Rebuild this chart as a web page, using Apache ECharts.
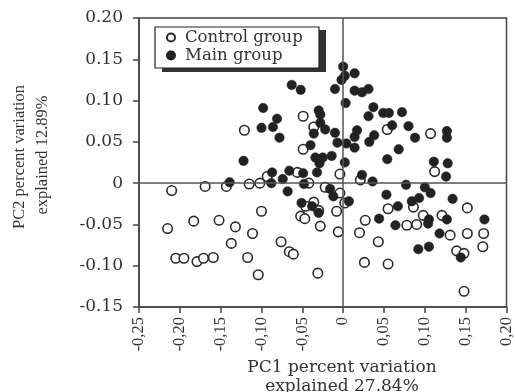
<!DOCTYPE html>
<html>
<head>
<meta charset="utf-8">
<script src="https://cdn.jsdelivr.net/npm/echarts@6/dist/echarts.min.js"></script>
<style>
html,body{margin:0;padding:0;background:#fff;}
#chart{width:515px;height:392px;}
</style>
</head>
<body>
<div id="chart"></div>
<script>
// Series data: [PC1, PC2]
const controlGroup = [
  [-0.215,-0.055],[-0.210,-0.009],[-0.205,-0.091],[-0.195,-0.091],[-0.183,-0.046],
  [-0.179,-0.095],[-0.171,-0.091],[-0.159,-0.090],[-0.169,-0.004],[-0.152,-0.045],
  [-0.143,-0.004],[-0.137,-0.073],[-0.132,-0.053],[-0.121,0.064],[-0.115,-0.001],
  [-0.111,-0.061],[-0.117,-0.090],[-0.104,-0.111],[-0.102,0.000],[-0.100,-0.034],
  [-0.093,0.008],[-0.076,-0.071],[-0.066,-0.083],[-0.061,-0.086],[-0.049,0.081],
  [-0.036,0.068],[-0.049,0.041],[-0.056,0.013],[-0.042,0.000],[-0.046,-0.028],
  [-0.036,-0.023],[-0.052,-0.040],[-0.047,-0.043],[-0.030,-0.033],[-0.028,-0.052],
  [-0.031,-0.109],[-0.022,-0.005],[-0.008,-0.034],[-0.004,0.011],[-0.004,-0.012],
  [0.002,-0.024],[-0.006,-0.059],[0.021,0.004],[0.020,-0.060],[0.027,-0.045],
  [0.026,-0.096],[0.043,-0.071],[0.055,-0.031],[0.055,-0.098],[0.054,0.065],
  [0.078,-0.051],[0.086,-0.029],[0.090,-0.050],[0.098,-0.039],[0.107,0.060],
  [0.112,0.014],[0.121,-0.039],[0.131,-0.063],[0.139,-0.082],[0.148,-0.085],
  [0.152,-0.030],[0.152,-0.061],[0.148,-0.131],[0.172,-0.061],[0.171,-0.077]
];
const mainGroup = [
  [0.000,0.141],[0.002,0.130],[-0.002,0.125],[0.014,0.133],
  [-0.063,0.119],[-0.052,0.113],[-0.010,0.114],[0.014,0.112],[0.023,0.110],[0.031,0.114],
  [0.003,0.097],[-0.098,0.091],[-0.081,0.078],[-0.030,0.088],[-0.028,0.083],
  [0.037,0.092],[0.031,0.081],[0.049,0.085],[0.056,0.085],[0.072,0.086],
  [-0.100,0.067],[-0.086,0.068],[-0.078,0.055],[-0.028,0.073],[-0.022,0.065],
  [0.060,0.070],[0.080,0.069],[0.017,0.064],[-0.010,0.061],[-0.036,0.060],
  [0.014,0.056],[0.038,0.058],[0.032,0.050],[0.088,0.055],[0.127,0.063],[0.127,0.055],
  [-0.040,0.046],[-0.007,0.049],[0.004,0.048],[0.014,0.043],[0.068,0.041],
  [-0.122,0.027],[-0.034,0.031],[-0.025,0.031],[-0.014,0.033],[-0.029,0.024],[0.002,0.025],
  [0.054,0.029],[0.111,0.026],[0.128,0.024],
  [-0.032,0.013],[-0.087,0.013],[-0.066,0.015],[-0.049,0.012],[0.023,0.010],[0.126,0.008],
  [-0.139,0.001],[-0.088,0.000],[-0.074,0.005],[-0.048,-0.001],[0.036,0.002],[0.077,-0.002],
  [-0.068,-0.010],[-0.016,-0.007],[-0.012,-0.016],[0.100,-0.005],[0.107,-0.012],[0.053,-0.014],
  [0.007,-0.022],[-0.051,-0.024],[-0.038,-0.028],[-0.030,-0.036],[0.084,-0.022],[0.093,-0.018],
  [0.067,-0.028],[0.134,-0.019],[0.044,-0.043],[0.105,-0.044],[0.104,-0.049],[0.127,-0.044],
  [0.064,-0.051],[0.173,-0.044],[0.118,-0.061],[0.092,-0.080],[0.105,-0.077],[0.144,-0.090]
];
const seriesNames = ['Control group', 'Main group'];
const xTickLabels = ['-0,25','-0,20','-0,15','-0,10','-0,05','0','0,05','0,10','0,15','0,20'];
const yTickLabels = ['-0.15','-0.10','-0.05','0','0.05','0.10','0.15','0.20'];
const xTitle = ['PC1 percent variation', 'explained 27.84%'];
const yTitle = ['PC2 percent variation', 'explained 12.89%'];

const X_MIN = -0.25, X_MAX = 0.20, Y_MIN = -0.15, Y_MAX = 0.20, STEP = 0.05;
const txt = '#333';

const chart = echarts.init(document.getElementById('chart'), null, {renderer: 'canvas'});
chart.setOption({
  animation: false,
  backgroundColor: '#fff',
  grid: {left: 139, right: 3, top: 18, bottom: 85, show: true, borderColor: '#444', borderWidth: 1.5, backgroundColor: 'transparent'},
  xAxis: {
    type: 'value', min: X_MIN, max: X_MAX, interval: STEP,
    axisLine: {show: true, onZero: false, lineStyle: {color: '#444', width: 1.5}},
    axisTick: {show: true, inside: false, length: 6, lineStyle: {color: '#444', width: 1.5}},
    splitLine: {show: false},
    axisLabel: {
      rotate: 90, margin: 10, color: txt, fontFamily: 'Liberation Serif', fontSize: 16.5,
      formatter: v => xTickLabels[Math.round((v - X_MIN) / STEP)]
    }
  },
  yAxis: {
    type: 'value', min: Y_MIN, max: Y_MAX, interval: STEP,
    axisLine: {show: true, onZero: false, lineStyle: {color: '#444', width: 1.5}},
    axisTick: {show: true, inside: false, length: 6, lineStyle: {color: '#444', width: 1.5}},
    splitLine: {show: false},
    axisLabel: {
      margin: 16, color: txt, fontFamily: 'DejaVu Serif', fontSize: 17,
      formatter: v => yTickLabels[Math.round((v - Y_MIN) / STEP)]
    }
  },
  legend: {
    orient: 'vertical', left: 166, top: 29, z: 10, padding: 0,
    itemWidth: 18, itemHeight: 8, itemGap: 1,
    textStyle: {fontFamily: 'DejaVu Serif', fontSize: 16.5, color: txt, lineHeight: 16},
    data: seriesNames
  },
  graphic: [
    {type: 'rect', z: 5, shape: {x: 162, y: 30, width: 164, height: 42}, style: {fill: '#333'}},
    {type: 'rect', z: 6, shape: {x: 155, y: 27, width: 164, height: 41}, style: {fill: '#fff', stroke: '#222', lineWidth: 1.2}},
    {type: 'text', x: 342, y: 368, style: {text: xTitle[0], fontFamily: 'DejaVu Serif', fontSize: 17, fill: txt, textAlign: 'center', textVerticalAlign: 'middle'}},
    {type: 'text', x: 342, y: 387, style: {text: xTitle[1], fontFamily: 'DejaVu Serif', fontSize: 17, fill: txt, textAlign: 'center', textVerticalAlign: 'middle'}},
    {type: 'text', x: 20, y: 157, rotation: Math.PI / 2, style: {text: yTitle[0], fontFamily: 'Liberation Serif', fontSize: 16.5, fill: txt, textAlign: 'center', textVerticalAlign: 'middle'}},
    {type: 'text', x: 43, y: 155, rotation: Math.PI / 2, style: {text: yTitle[1], fontFamily: 'Liberation Serif', fontSize: 16.5, fill: txt, textAlign: 'center', textVerticalAlign: 'middle'}}
  ],
  series: [
    {
      name: seriesNames[0], type: 'scatter', data: controlGroup, symbol: 'circle', symbolSize: 9.5,
      itemStyle: {color: '#fff', borderColor: '#2a2a2a', borderWidth: 1.6, opacity: 1},
      markLine: {
        silent: true, symbol: 'none', label: {show: false},
        lineStyle: {color: '#555', width: 1.5, type: 'solid'},
        data: [{xAxis: 0}, {yAxis: 0}]
      },
      z: 3
    },
    {
      name: seriesNames[1], type: 'scatter', data: mainGroup, symbol: 'circle', symbolSize: 9.5,
      itemStyle: {color: '#222', borderColor: '#222', borderWidth: 0.5, opacity: 1},
      z: 4
    }
  ]
});
</script>
</body>
</html>
